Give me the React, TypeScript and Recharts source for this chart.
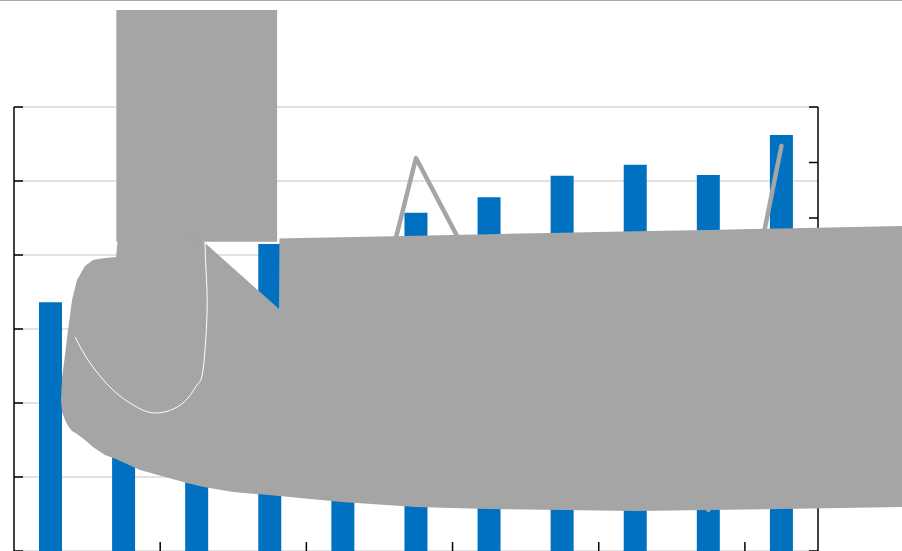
import { ComposedChart, Bar, Line, Area, XAxis, YAxis, CartesianGrid } from "recharts";

// category labels are cropped off in the reference, so plain indexes
const categories = ["1", "2", "3", "4", "5", "6", "7", "8", "9", "10", "11"];
const barValues = [3.36, 3.75, 3.95, 4.15, 4.05, 4.57, 4.78, 5.07, 5.22, 5.08, 5.62];
const lineValues = [null, 3.08, 2.72, 2.36, 1.84, 7.08, 4.58, 3.62, 2.36, 0.74, 7.3];
const leftTicks = [0, 1, 2, 3, 4, 5, 6];
const rightTicks = [0, 1, 2, 3, 4, 5, 6, 7, 8];

// grey overlay shapes, in band units (x) and left-axis units (y)
const rectX = [1.4, 3.6];
const rectLow = [4.18, 4.18];
const rectHigh = [7.31, 7.31];

const slabX = [
  0.643, 0.657, 0.698, 0.739, 0.794, 0.862, 0.971, 1.081, 1.245, 1.396, 1.423, 1.724, 2.367, 2.599,
  2.996, 3.489, 3.626, 3.632, 3.913, 4.488, 5.5, 6.499, 7.498, 8.496, 9.495, 10.494, 12.149,
];
const slabLow = [
  2.041, 1.878, 1.77, 1.689, 1.622, 1.581, 1.5, 1.405, 1.297, 1.243, 1.23, 1.095, 0.919, 0.865,
  0.797, 0.757, 0.743, 0.743, 0.716, 0.662, 0.595, 0.568, 0.554, 0.541, 0.554, 0.568, 0.595,
];
const slabHigh = [
  2.041, 2.338, 2.649, 2.986, 3.392, 3.662, 3.851, 3.932, 3.959, 3.973, 4.25, 4.25, 4.25, 4.176,
  3.824, 3.392, 3.27, 4.223, 4.23, 4.241, 4.261, 4.281, 4.3, 4.32, 4.339, 4.359, 4.392,
];

const loopX = [0.835, 1.04, 1.354, 1.655, 1.956, 2.312, 2.504, 2.586, 2.641, 2.627, 2.613];
const loopY = [2.892, 2.541, 2.176, 1.959, 1.865, 2.0, 2.243, 2.446, 3.216, 3.797, 4.162];

const BLUE = "#0070C0";
const GREY = "#A5A5A5";

// tick labels sit outside the cropped picture
const NoLabel = () => <g />;

// Excel puts the x tick marks between categories, every second one
const BetweenTick = (props: any) => {
  const { x, y, payload, index } = props;
  if (index % 2 === 0) return <g />;
  const edge = x + (payload?.offset ?? 0);
  return <line x1={edge} x2={edge} y1={y} y2={y - 9} stroke="#000" strokeWidth={1.5} />;
};

export default function App() {
  const table = categories.map((name, i) => ({ name, sales: barValues[i], share: lineValues[i] }));
  const rectData = rectX.map((x, i) => ({ x, range: [rectLow[i], rectHigh[i]] }));
  const slabData = slabX.map((x, i) => ({ x, range: [slabLow[i], slabHigh[i]] }));
  const loopData = loopX.map((x, i) => ({ x, y: loopY[i] }));

  return (
    <div
      style={{
        position: "absolute",
        top: 0,
        left: 0,
        width: 902,
        height: 551,
        boxSizing: "border-box",
        borderTop: "1px solid #a6a6a6",
        overflow: "hidden",
        background: "#fff",
      }}
    >
      <div style={{ position: "relative", width: 902, height: 560 }}>
        <ComposedChart width={902} height={560} data={table} margin={{ top: 106, right: 83, bottom: 9, left: 13 }}>
          <CartesianGrid yAxisId="left" horizontal vertical={false} stroke="#d9d9d9" strokeWidth={1.5} />
          <XAxis
            xAxisId="cat"
            dataKey="name"
            height={1}
            interval={0}
            axisLine={false}
            tickLine={false}
            tickSize={0}
            tickMargin={0}
            tick={BetweenTick}
          />
          <YAxis
            yAxisId="left"
            domain={[0, 6]}
            ticks={leftTicks}
            width={1}
            tick={NoLabel}
            tickSize={-9}
            axisLine={{ stroke: "#000", strokeWidth: 1.5 }}
            tickLine={{ stroke: "#000", strokeWidth: 1.5 }}
          />
          <YAxis
            yAxisId="right"
            orientation="right"
            domain={[0, 8]}
            ticks={rightTicks}
            width={1}
            tick={NoLabel}
            tickSize={-9}
            axisLine={{ stroke: "#000", strokeWidth: 1.5 }}
            tickLine={{ stroke: "#000", strokeWidth: 1.5 }}
          />
          <Bar xAxisId="cat" yAxisId="left" dataKey="sales" fill={BLUE} barSize={23} isAnimationActive={false} />
          <Line
            xAxisId="cat"
            yAxisId="right"
            dataKey="share"
            stroke={GREY}
            strokeWidth={4.5}
            strokeLinecap="round"
            strokeLinejoin="round"
            dot={false}
            activeDot={false}
            isAnimationActive={false}
          />
        </ComposedChart>

        {/* grey shapes lying over the plot */}
        <div style={{ position: "absolute", top: 0, left: 0, pointerEvents: "none" }}>
          <ComposedChart width={902} height={560} margin={{ top: 0, right: 0, bottom: 0, left: 0 }}>
            <XAxis type="number" dataKey="x" domain={[-0.1915, 12.1493]} allowDataOverflow hide />
            <YAxis type="number" domain={[-0.1351, 7.4324]} allowDataOverflow hide />
            <Area
              data={rectData}
              dataKey="range"
              type="linear"
              fill={GREY}
              fillOpacity={1}
              stroke="none"
              dot={false}
              activeDot={false}
              isAnimationActive={false}
            />
            <Area
              data={slabData}
              dataKey="range"
              type="linear"
              fill={GREY}
              fillOpacity={1}
              stroke="none"
              dot={false}
              activeDot={false}
              isAnimationActive={false}
            />
            <Line
              data={loopData}
              dataKey="y"
              type="natural"
              stroke="#ffffff"
              strokeWidth={1}
              dot={false}
              activeDot={false}
              isAnimationActive={false}
            />
          </ComposedChart>
        </div>
      </div>
    </div>
  );
}
